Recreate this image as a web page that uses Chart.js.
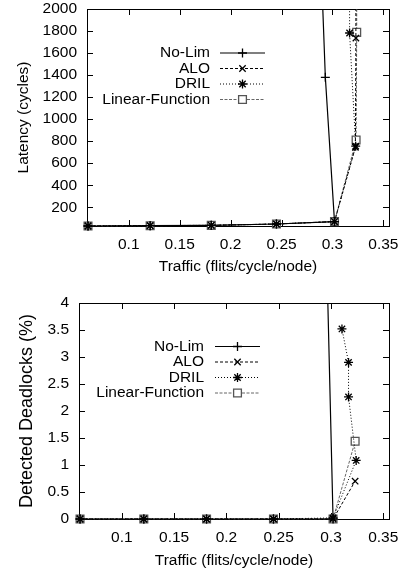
<!DOCTYPE html>
<html>
<head>
<meta charset="utf-8">
<script src="https://cdn.jsdelivr.net/npm/chart.js@4.4.1/dist/chart.umd.min.js"></script>
<style>
    html, body { margin: 0; padding: 0; background: #fff; }
    #topBox { position: absolute; left: 0; top: 0; width: 408px; height: 287px; }
    #botBox { position: absolute; left: 0; top: 287px; width: 408px; height: 286px; }
</style>
</head>
<body>
<div id="topBox"><canvas id="latencyChart" width="408" height="287"></canvas></div>
<div id="botBox"><canvas id="deadlockChart" width="408" height="286"></canvas></div>
<script>
// tick labels
const trafficTicks = [0.1, 0.15, 0.2, 0.25, 0.3, 0.35];
const latencyTicks = [200, 400, 600, 800, 1000, 1200, 1400, 1600, 1800, 2000];
const deadlockTicks = [0, 0.5, 1, 1.5, 2, 2.5, 3, 3.5, 4];

const seriesNames = ['No-Lim', 'ALO', 'DRIL', 'Linear-Function'];

// latency plot (top)
const latNoLimX = [0.06, 0.121, 0.181, 0.245, 0.302, 0.293, 0.288];
const latNoLimY = [30, 33, 36, 48, 70, 1380, 2620];
const latAloX = [0.06, 0.121, 0.181, 0.245, 0.302, 0.3225, 0.323, 0.3228];
const latAloY = [30, 33, 36, 48, 70, 745, 1736, 3500];
const latDrilX = [0.06, 0.121, 0.181, 0.245, 0.302, 0.3228, 0.3168, 0.3168, 0.3105];
const latDrilY = [30, 33, 36, 48, 70, 755, 1782, 4000, 6000];
const latLinX = [0.06, 0.121, 0.181, 0.245, 0.302, 0.3232, 0.3238, 0.3238];
const latLinY = [30, 33, 36, 48, 70, 810, 1788, 3500];

// detected deadlocks plot (bottom)
const dlNoLimX = [0.06, 0.121, 0.181, 0.245, 0.302, 0.293, 0.288];
const dlNoLimY = [0, 0, 0, 0, 0, 7.2, 10];
const dlAloX = [0.06, 0.121, 0.181, 0.245, 0.302, 0.3231];
const dlAloY = [0, 0, 0, 0, 0, 0.70];
const dlDrilX = [0.06, 0.121, 0.181, 0.245, 0.302, 0.3241, 0.3168, 0.3168, 0.3105];
const dlDrilY = [0, 0, 0, 0, 0.02, 1.085, 2.26, 2.90, 3.52];
const dlLinX = [0.06, 0.121, 0.181, 0.245, 0.302, 0.3231];
const dlLinY = [0, 0, 0, 0, 0, 1.44];

const FONT = "'Liberation Sans', Arial, sans-serif";
const FONT_SIZE = 15.5;
Chart.defaults.font.family = FONT;
Chart.defaults.font.size = FONT_SIZE;
Chart.defaults.color = '#000';

// gnuplot-like look for each series
const looks = [
    { color: '#000', dash: [], width: 1.2, point: 'cross', radius: 4.5, pointColor: '#000' },
    { color: '#000', dash: [3, 2], width: 1, point: 'crossRot', radius: 4.5, pointColor: '#000' },
    { color: '#000', dash: [1, 2], width: 1, point: 'star', radius: 4.5, pointColor: '#000' },
    { color: '#666', dash: [3, 1.5], width: 1, point: 'rect', radius: 5.5, pointColor: '#555' }
];

function pts(xs, ys) {
    return xs.map((x, i) => ({ x, y: ys[i] }));
}

// box round the plot + inward mirrored ticks
const gnuplotFrame = {
    id: 'gnuplotFrame',
    beforeDatasetsDraw(chart) {
        const { ctx, chartArea: a, scales: { x, y } } = chart;
        const len = 6;
        ctx.save();
        ctx.strokeStyle = '#000';
        ctx.lineWidth = 1;
        ctx.strokeRect(Math.round(a.left) + 0.5, Math.round(a.top) + 0.5,
            Math.round(a.right - a.left), Math.round(a.bottom - a.top));
        ctx.beginPath();
        x.ticks.forEach(t => {
            const px = Math.round(x.getPixelForValue(t.value)) + 0.5;
            ctx.moveTo(px, a.bottom); ctx.lineTo(px, a.bottom - len);
            ctx.moveTo(px, a.top); ctx.lineTo(px, a.top + len);
        });
        y.ticks.forEach(t => {
            const py = Math.round(y.getPixelForValue(t.value)) + 0.5;
            ctx.moveTo(a.left, py); ctx.lineTo(a.left + len, py);
            ctx.moveTo(a.right, py); ctx.lineTo(a.right - len, py);
        });
        ctx.stroke();
        ctx.restore();
    }
};

// key: text on the left, line sample with marker on the right
const gnuplotKey = {
    id: 'gnuplotKey',
    afterDatasetsDraw(chart, args, opts) {
        const { ctx, chartArea: a } = chart;
        ctx.save();
        chart.data.datasets.forEach((ds, i) => {
            const y = a.top + opts.top + i * opts.step;
            ctx.font = FONT_SIZE + 'px ' + FONT;
            ctx.textAlign = 'right';
            ctx.textBaseline = 'middle';
            ctx.fillStyle = '#000';
            ctx.fillText(ds.label, a.left + opts.textRight, y);

            const x0 = a.left + opts.lineStart, x1 = a.left + opts.lineEnd;
            ctx.strokeStyle = ds.borderColor;
            ctx.lineWidth = ds.borderWidth;
            ctx.setLineDash(ds.borderDash);
            ctx.beginPath();
            ctx.moveTo(x0, y);
            ctx.lineTo(x1, y);
            ctx.stroke();
            ctx.setLineDash([]);

            ctx.fillStyle = ds.pointBackgroundColor;
            ctx.strokeStyle = ds.pointBorderColor;
            ctx.lineWidth = ds.pointBorderWidth;
            Chart.helpers.drawPoint(ctx, {
                pointStyle: ds.pointStyle, radius: ds.pointRadius, rotation: 0, borderWidth: ds.pointBorderWidth
            }, (x0 + x1) / 2, y);
        });
        ctx.restore();
    }
};

function makeDatasets(series) {
    return series.map((s, i) => ({
        label: seriesNames[i],
        data: pts(s[0], s[1]),
        borderColor: looks[i].color,
        borderWidth: looks[i].width,
        borderDash: looks[i].dash,
        pointStyle: looks[i].point,
        pointRadius: looks[i].radius,
        pointBorderColor: looks[i].pointColor,
        pointBackgroundColor: '#fff',
        pointBorderWidth: 1.3,
        tension: 0,
        fill: false,
        clip: { left: 8, right: 8, top: 0, bottom: 8 }
    }));
}

function renderPlot(canvasId, cfg) {
    const ctx = document.getElementById(canvasId).getContext('2d');
    return new Chart(ctx, {
        type: 'line',
        data: { datasets: makeDatasets(cfg.series) },
        plugins: [gnuplotFrame, gnuplotKey],
        options: {
            responsive: false,
            animation: false,
            layout: { padding: cfg.padding },
            scales: {
                x: {
                    type: 'linear',
                    min: 0.059,
                    max: 0.3555,
                    afterBuildTicks: s => { s.ticks = trafficTicks.map(v => ({ value: v })); },
                    afterFit: s => {
                        s.height = cfg.xHeight;
                        s.paddingLeft = 0;
                        s.paddingRight = 0;
                    },
                    grid: { display: false, drawTicks: false },
                    border: { display: false },
                    ticks: { padding: 9, autoSkip: false, maxRotation: 0, callback: v => String(v) },
                    title: { display: true, text: 'Traffic (flits/cycle/node)', padding: { top: 0, bottom: cfg.xTitlePad } }
                },
                y: {
                    type: 'linear',
                    min: cfg.yMin,
                    max: cfg.yMax,
                    afterBuildTicks: s => { s.ticks = cfg.yTicks.map(v => ({ value: v })); },
                    afterFit: s => {
                        s.width = cfg.yWidth;
                        s.paddingTop = 0;
                        s.paddingBottom = 0;
                    },
                    grid: { display: false, drawTicks: false },
                    border: { display: false },
                    ticks: { padding: 10, autoSkip: false, callback: v => String(v) },
                    title: {
                        display: true, text: cfg.yTitle, font: { size: cfg.yTitleSize },
                        padding: { top: cfg.yTitlePad, bottom: 0 }
                    }
                }
            },
            plugins: {
                legend: { display: false },
                tooltip: { enabled: false },
                gnuplotKey: cfg.key
            }
        }
    });
}

renderPlot('latencyChart', {
    series: [[latNoLimX, latNoLimY], [latAloX, latAloY], [latDrilX, latDrilY], [latLinX, latLinY]],
    yMin: 30, yMax: 2000, yTicks: latencyTicks,
    yTitle: 'Latency (cycles)', yTitleSize: FONT_SIZE,
    padding: { top: 9, right: 19, left: 0, bottom: 0 },
    xHeight: 61, yWidth: 87, xTitlePad: 11, yTitlePad: 14,
    key: { textRight: 123, lineStart: 133, lineEnd: 178, top: 44, step: 15.5 }
});

renderPlot('deadlockChart', {
    series: [[dlNoLimX, dlNoLimY], [dlAloX, dlAloY], [dlDrilX, dlDrilY], [dlLinX, dlLinY]],
    yMin: 0, yMax: 4, yTicks: deadlockTicks,
    yTitle: 'Detected Deadlocks (%)', yTitleSize: 18,
    padding: { top: 16, right: 19, left: 0, bottom: 0 },
    xHeight: 54, yWidth: 79, xTitlePad: 3, yTitlePad: 16,
    key: { textRight: 125, lineStart: 136, lineEnd: 181, top: 43.5, step: 15.5 }
});
</script>
</body>
</html>
